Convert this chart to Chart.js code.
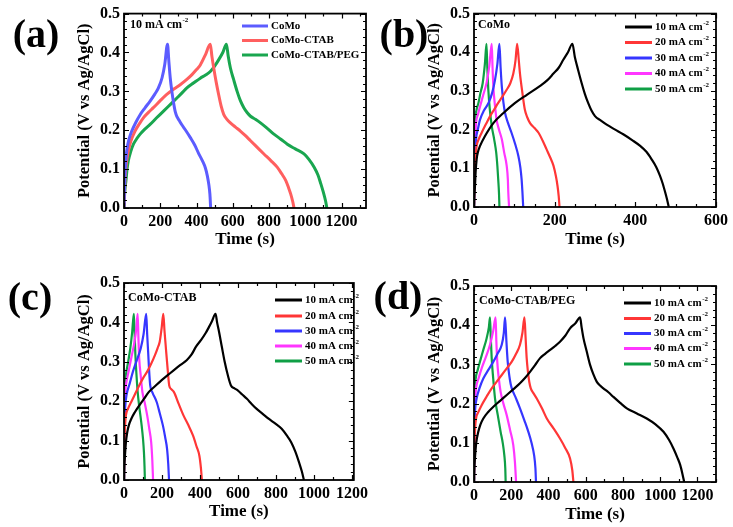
<!DOCTYPE html>
<html>
<head>
<meta charset="utf-8">
<script src="https://cdn.jsdelivr.net/npm/chart.js@4.4.0/dist/chart.umd.min.js"></script>
<style>
body{margin:0;background:#fff;width:733px;height:527px;position:relative;overflow:hidden}
canvas{position:absolute}
</style>
</head>
<body>
<canvas id="ca"></canvas>
<canvas id="cb"></canvas>
<canvas id="cc"></canvas>
<canvas id="cd"></canvas>
<script>
// ---- data (time in s, potential in V) ----
var yTicks = [0, 0.1, 0.2, 0.3, 0.4, 0.5]
var xTicksWide = [0, 200, 400, 600, 800, 1000, 1200]
var xTicksB = [0, 200, 400, 600]

// (a) 10 mA cm-2, three samples
var aCoMoT = [0,2,4,8,15,28,43,65,89,115,144,170,190,210,225,240,247,255,264,273,283,292,305,319,340,366,390,412,432,449,460,468,474,478]
var aCoMoV = [0,0.04,0.071,0.11,0.147,0.178,0.198,0.22,0.24,0.257,0.275,0.293,0.309,0.335,0.37,0.421,0.38,0.335,0.3,0.272,0.247,0.235,0.225,0.214,0.2,0.181,0.162,0.14,0.122,0.103,0.082,0.06,0.035,0]
var aCtabT = [0,3,5.5,12,24,40,61,84,107,135,162,200,236,275,310,345,375,400,421,449,476,485,495,508,522,536,550,568,587,615,642,670,698,735,772,810,845,870,892,908,919,930,938]
var aCtabV = [0,0.04,0.071,0.11,0.147,0.175,0.198,0.216,0.232,0.246,0.258,0.276,0.292,0.306,0.317,0.33,0.343,0.356,0.368,0.394,0.421,0.39,0.36,0.325,0.292,0.262,0.241,0.228,0.219,0.208,0.198,0.186,0.173,0.156,0.139,0.122,0.105,0.088,0.071,0.052,0.037,0.018,0]
var aPegT = [0,4,11,17,24,37,52,70,89,115,144,180,218,255,292,320,347,385,421,450,476,500,522,545,565,575,587,605,624,642,661,680,698,725,753,790,827,865,901,945,993,1020,1049,1070,1086,1100,1112,1119]
var aPegV = [0,0.04,0.071,0.1,0.122,0.145,0.164,0.178,0.19,0.203,0.215,0.232,0.249,0.266,0.283,0.296,0.309,0.322,0.334,0.342,0.351,0.365,0.381,0.4,0.421,0.39,0.36,0.33,0.3,0.276,0.258,0.245,0.236,0.228,0.219,0.205,0.19,0.177,0.164,0.152,0.139,0.125,0.105,0.085,0.062,0.04,0.018,0]

// (b) CoMo
var b10T = [0,1,2.5,4,6.6,10,15,27,48,73,102,131,164,182,197,210,221,233,244,250,258,267,275,283,291,300,314,329,350,370,392,412,428,440,452,461,468,474,479,483]
var b10V = [0,0.03,0.055,0.09,0.124,0.143,0.158,0.183,0.217,0.243,0.269,0.29,0.313,0.328,0.345,0.36,0.38,0.4,0.422,0.388,0.355,0.32,0.292,0.269,0.25,0.235,0.224,0.213,0.2,0.188,0.173,0.158,0.142,0.124,0.103,0.081,0.06,0.038,0.018,0]
var b20T = [0,1,2,3.5,6.6,12,19,29,40,50,60,70,81,90,97.5,103,107,111,114,120,126,132,139,150,160,170,180,189,197,203,207,210,212]
var b20V = [0,0.05,0.09,0.125,0.158,0.176,0.192,0.213,0.235,0.252,0.269,0.285,0.303,0.32,0.345,0.38,0.422,0.38,0.345,0.295,0.252,0.232,0.217,0.204,0.192,0.172,0.149,0.128,0.107,0.08,0.055,0.028,0]
var b30T = [0,1,2.5,5,10,15,25,36,45,52,58,63,66,69,73,77,84,93,102,110,115,118,120,122]
var b30V = [0,0.07,0.13,0.175,0.203,0.226,0.25,0.269,0.295,0.328,0.37,0.422,0.36,0.311,0.27,0.243,0.218,0.192,0.163,0.132,0.102,0.072,0.04,0]
var b40T = [0,1,2.5,5,10,15,23,31,38,44,46,48,52,56,62,69,75,81,84,85,87]
var b40V = [0,0.1,0.17,0.217,0.24,0.26,0.29,0.32,0.365,0.422,0.36,0.311,0.262,0.226,0.2,0.175,0.14,0.107,0.07,0.038,0]
var b50T = [0,1,3,6,11,16,21.5,27,31,33,35.5,39,44,50,55,58,60,62,63]
var b50V = [0,0.12,0.22,0.25,0.269,0.295,0.32,0.37,0.422,0.36,0.303,0.255,0.209,0.175,0.141,0.105,0.072,0.035,0]

// (c) CoMo-CTAB
var c10T = [0,2,5,10,17,26,38,57,80,105,130,163,197,230,263,297,330,355,380,405,430,447,463,482,490,500,515,530,547,563,580,597,622,647,672,697,730,763,797,830,857,880,902,922,936,947]
var c10V = [0,0.035,0.061,0.095,0.121,0.14,0.155,0.172,0.189,0.206,0.223,0.238,0.253,0.266,0.279,0.292,0.304,0.318,0.339,0.355,0.373,0.388,0.403,0.422,0.4,0.377,0.338,0.3,0.265,0.24,0.233,0.228,0.217,0.206,0.193,0.181,0.168,0.155,0.143,0.13,0.113,0.096,0.072,0.044,0.022,0]
var c20T = [0,1,3,6,10,22,38,60,80,100,122,143,163,177,188,198,207,213,218,222,230,238,250,263,288,313,338,363,382,397,405,410]
var c20V = [0,0.05,0.1,0.14,0.164,0.182,0.198,0.22,0.24,0.258,0.275,0.295,0.317,0.335,0.351,0.385,0.422,0.38,0.35,0.326,0.28,0.24,0.23,0.223,0.193,0.164,0.14,0.113,0.085,0.061,0.03,0]
var c30T = [0,1,3,7,13,30,47,68,88,103,117,122,127,132,138,150,172,188,205,217,227,233,237]
var c30V = [0,0.08,0.15,0.19,0.215,0.245,0.275,0.305,0.334,0.37,0.422,0.37,0.326,0.28,0.24,0.222,0.198,0.17,0.138,0.108,0.078,0.04,0]
var c40T = [0,1,3,6,10,24,38,55,65,72,76,80,88,97,110,122,133,143,149,153]
var c40V = [0,0.1,0.18,0.22,0.24,0.275,0.309,0.35,0.385,0.422,0.36,0.309,0.265,0.223,0.194,0.164,0.13,0.096,0.05,0]
var c50T = [0,1,3,6,10,22,33,43,52,56,60,66,72,82,93,100,105,108,110]
var c50V = [0,0.12,0.21,0.245,0.266,0.3,0.334,0.375,0.422,0.37,0.317,0.265,0.223,0.18,0.138,0.105,0.07,0.035,0]

// (d) CoMo-CTAB/PEG
var d10T = [0,2,5,12,23,35,50,75,104,140,176,212,247,275,301,328,355,382,409,436,462,490,516,545,570,578,588,606,624,641,659,677,695,722,749,785,821,875,928,975,1018,1048,1072,1092,1108,1120,1129]
var d10V = [0,0.035,0.06,0.1,0.128,0.147,0.162,0.178,0.192,0.207,0.222,0.237,0.252,0.266,0.281,0.298,0.316,0.327,0.337,0.347,0.358,0.373,0.392,0.405,0.42,0.395,0.367,0.332,0.298,0.275,0.256,0.246,0.239,0.229,0.217,0.202,0.188,0.175,0.162,0.147,0.128,0.107,0.085,0.063,0.043,0.02,0]
var d20T = [0,1,3,6,11,25,41,68,95,122,149,176,203,226,247,260,271,277,283,290,297,305,320,337,365,391,427,462,490,516,528,534]
var d20V = [0,0.05,0.1,0.138,0.162,0.18,0.196,0.218,0.239,0.256,0.273,0.29,0.307,0.327,0.35,0.38,0.42,0.37,0.316,0.28,0.255,0.239,0.226,0.213,0.188,0.162,0.137,0.111,0.087,0.06,0.03,0]
var d30T = [0,1,3,7,14,30,50,77,104,127,149,160,167,174,181,190,197,203,225,247,270,292,310,323,330,333]
var d30V = [0,0.08,0.15,0.19,0.213,0.24,0.264,0.286,0.307,0.328,0.35,0.38,0.42,0.36,0.307,0.27,0.25,0.239,0.214,0.188,0.158,0.128,0.098,0.068,0.035,0]
var d40T = [0,1,3,6,11,25,41,63,86,103,116,120,125,133,143,158,176,194,211,220,226]
var d40V = [0,0.1,0.17,0.21,0.239,0.265,0.29,0.318,0.35,0.385,0.42,0.36,0.307,0.265,0.23,0.2,0.17,0.132,0.094,0.05,0]
var d50T = [0,1,3,5,9,20,32,50,68,80,86,90,95,103,113,128,143,155,163,168,170]
var d50V = [0,0.12,0.2,0.24,0.264,0.286,0.307,0.337,0.367,0.395,0.42,0.37,0.316,0.265,0.213,0.17,0.128,0.098,0.068,0.035,0]

var rateLabels = ['10 mA cm^-2', '20 mA cm^-2', '30 mA cm^-2', '40 mA cm^-2', '50 mA cm^-2']
var rateColors = ['#000000', '#ff3636', '#3636ff', '#ff36ff', '#0f9f45']

var FONT = "'Liberation Serif', 'Times New Roman', serif"

function pts(t, v){
    return t.map(function(x, i){ return {x: x, y: v[i]} })
}

// text with optional superscript after '^'
function drawLabel(ctx, text, x, y, size){
    var parts = text.split('^')
    ctx.font = 'bold ' + size + 'px ' + FONT
    ctx.textAlign = 'left'
    ctx.textBaseline = 'middle'
    ctx.fillStyle = '#000'
    ctx.fillText(parts[0], x, y)
    if(parts.length > 1){
        var w = ctx.measureText(parts[0]).width
        ctx.font = 'bold ' + Math.round(size*0.6) + 'px ' + FONT
        ctx.fillText(parts[1], x + w + 0.5, y - size*0.38)
    }
}

var deco = {
    id: 'deco',
    afterDraw: function(chart){
        var o = chart.options.plugins.deco
        var ctx = chart.ctx, ca = chart.chartArea
        var xs = chart.scales.x, ys = chart.scales.y
        var ox = o.box[0], oy = o.box[1]
        ctx.save()
        ctx.strokeStyle = '#000'
        ctx.lineWidth = 1.2
        ctx.beginPath()
        var n = Math.floor(xs.max / o.minor + 1e-6)
        for(var i = 0; i <= n; i++){
            var v = i*o.minor
            var major = Math.abs(v/o.major - Math.round(v/o.major)) < 1e-6
            var len = major ? 5 : 3
            var px = Math.round(xs.getPixelForValue(v)) + 0.5
            ctx.moveTo(px, ca.bottom); ctx.lineTo(px, ca.bottom - len)
            ctx.moveTo(px, ca.top); ctx.lineTo(px, ca.top + len)
        }
        for(var j = 0; j <= 25; j++){
            var len2 = (j % 5 == 0) ? 5 : 3
            var py = Math.round(ys.getPixelForValue(j*0.02)) + 0.5
            ctx.moveTo(ca.left, py); ctx.lineTo(ca.left + len2, py)
            ctx.moveTo(ca.right, py); ctx.lineTo(ca.right - len2, py)
        }
        ctx.stroke()
        ctx.lineWidth = 1.8
        ctx.strokeRect(ca.left, ca.top, ca.right - ca.left, ca.bottom - ca.top)

        ctx.fillStyle = '#000'
        ctx.font = 'bold 40px ' + FONT
        ctx.textAlign = 'center'
        ctx.textBaseline = 'middle'
        ctx.fillText(o.letter, o.letterAt[0] - ox, o.letterAt[1] - oy)

        drawLabel(ctx, o.note, o.noteAt[0] - ox, o.noteAt[1] - oy, 12)

        chart.data.datasets.forEach(function(ds, k){
            var y = o.legY[k] - oy
            ctx.strokeStyle = ds.borderColor
            ctx.lineWidth = 3
            ctx.beginPath()
            ctx.moveTo(o.legX[0] - ox, y)
            ctx.lineTo(o.legX[1] - ox, y)
            ctx.stroke()
            drawLabel(ctx, ds.label, o.legX[2] - ox, y, 11)
        })
        ctx.restore()
    }
}

function panel(id, p){
    var c = document.getElementById(id)
    c.style.left = p.box[0] + 'px'
    c.style.top = p.box[1] + 'px'
    c.width = p.box[2]
    c.height = p.box[3]
    var yW = p.area[0] - p.box[0]
    var xH = p.box[1] + p.box[3] - p.area[3]
    new Chart(c, {
        type: 'line',
        data: {
            datasets: p.series.map(function(s){
                return {label: s[0], data: pts(s[1], s[2]), borderColor: s[3], backgroundColor: s[3],
                    borderWidth: p.lw, pointRadius: 0, fill: false, cubicInterpolationMode: 'monotone'}
            })
        },
        options: {
            responsive: false,
            animation: false,
            events: [],
            layout: {padding: {left: 0, top: p.area[1] - p.box[1], right: p.box[0] + p.box[2] - p.area[2], bottom: 0}},
            plugins: {
                legend: {display: false},
                tooltip: {enabled: false},
                deco: {box: p.box, minor: p.minor, major: 200, letter: p.letter, letterAt: p.letterAt,
                    note: p.note, noteAt: p.noteAt, legX: p.legX, legY: p.legY}
            },
            scales: {
                x: {
                    type: 'linear', min: 0, max: p.xmax,
                    afterBuildTicks: function(s){ s.ticks = p.xTicks.map(function(v){ return {value: v} }) },
                    afterFit: function(s){ s.height = xH },
                    grid: {display: false, drawTicks: false}, border: {display: false},
                    ticks: {font: {family: FONT, size: 16, weight: 'bold'}, color: '#000', padding: 4, maxRotation: 0, autoSkip: false,
                        callback: function(v){ return String(v) }},
                    title: {display: true, text: 'Time (s)', color: '#000', font: {family: FONT, size: 17, weight: 'bold'},
                        padding: {top: 0, bottom: p.xtPad}}
                },
                y: {
                    type: 'linear', min: 0, max: 0.5,
                    afterBuildTicks: function(s){ s.ticks = yTicks.map(function(v){ return {value: v} }) },
                    afterFit: function(s){ s.width = yW },
                    grid: {display: false, drawTicks: false}, border: {display: false},
                    ticks: {font: {family: FONT, size: 16, weight: 'bold'}, color: '#000', padding: 4,
                        callback: function(v){ return v.toFixed(1) }},
                    title: {display: true, text: 'Potential (V vs Ag/AgCl)', color: '#000', font: {family: FONT, size: 16.5, weight: 'bold'},
                        padding: {top: yW - 39 - 9.9, bottom: 0}}
                }
            }
        },
        plugins: [deco]
    })
}

function rateSeries(ts, vs){
    return ts.map(function(t, i){ return [rateLabels[i], t, vs[i], rateColors[i]] })
}

panel('ca', {
    box: [0, 0, 372, 263], area: [124, 12, 366, 208], xmax: 1335, xTicks: xTicksWide, minor: 100, xtPad: 12.8, lw: 3,
    letter: '(a)', letterAt: [36, 37], note: '10 mA cm^-2', noteAt: [130, 25],
    legX: [242, 268, 271], legY: [26, 40.5, 55],
    series: [['CoMo', aCoMoT, aCoMoV, '#5c5cff'], ['CoMo-CTAB', aCtabT, aCtabV, '#ff5f5f'], ['CoMo-CTAB/PEG', aPegT, aPegV, '#19a64f']]
})
panel('cb', {
    box: [366, 0, 367, 263], area: [474, 11, 716, 207], xmax: 600, xTicks: xTicksB, minor: 50, xtPad: 12.8, lw: 2.2,
    letter: '(b)', letterAt: [404, 37], note: 'CoMo', noteAt: [478, 25],
    legX: [625, 652, 655], legY: [27, 42.5, 58, 73.5, 89],
    series: rateSeries([b10T, b20T, b30T, b40T, b50T], [b10V, b20V, b30V, b40V, b50V])
})
panel('cc', {
    box: [0, 263, 372, 264], area: [124, 283, 366, 480], xmax: 1210, xTicks: xTicksWide, minor: 100, xtPad: 4.8, lw: 2.2,
    letter: '(c)', letterAt: [30, 300], note: 'CoMo-CTAB', noteAt: [128, 298],
    legX: [275, 302, 305], legY: [300, 316, 331, 346, 361],
    series: rateSeries([c10T, c20T, c30T, c40T, c50T], [c10V, c20V, c30V, c40V, c50V])
})
panel('cd', {
    box: [366, 263, 367, 264], area: [474, 286, 716, 482], xmax: 1300, xTicks: xTicksWide, minor: 100, xtPad: 1.8, lw: 2.2,
    letter: '(d)', letterAt: [398, 299], note: 'CoMo-CTAB/PEG', noteAt: [479, 301],
    legX: [624, 651, 654], legY: [303, 318.5, 333.5, 348.5, 364],
    series: rateSeries([d10T, d20T, d30T, d40T, d50T], [d10V, d20V, d30V, d40V, d50V])
})
</script>
</body>
</html>
